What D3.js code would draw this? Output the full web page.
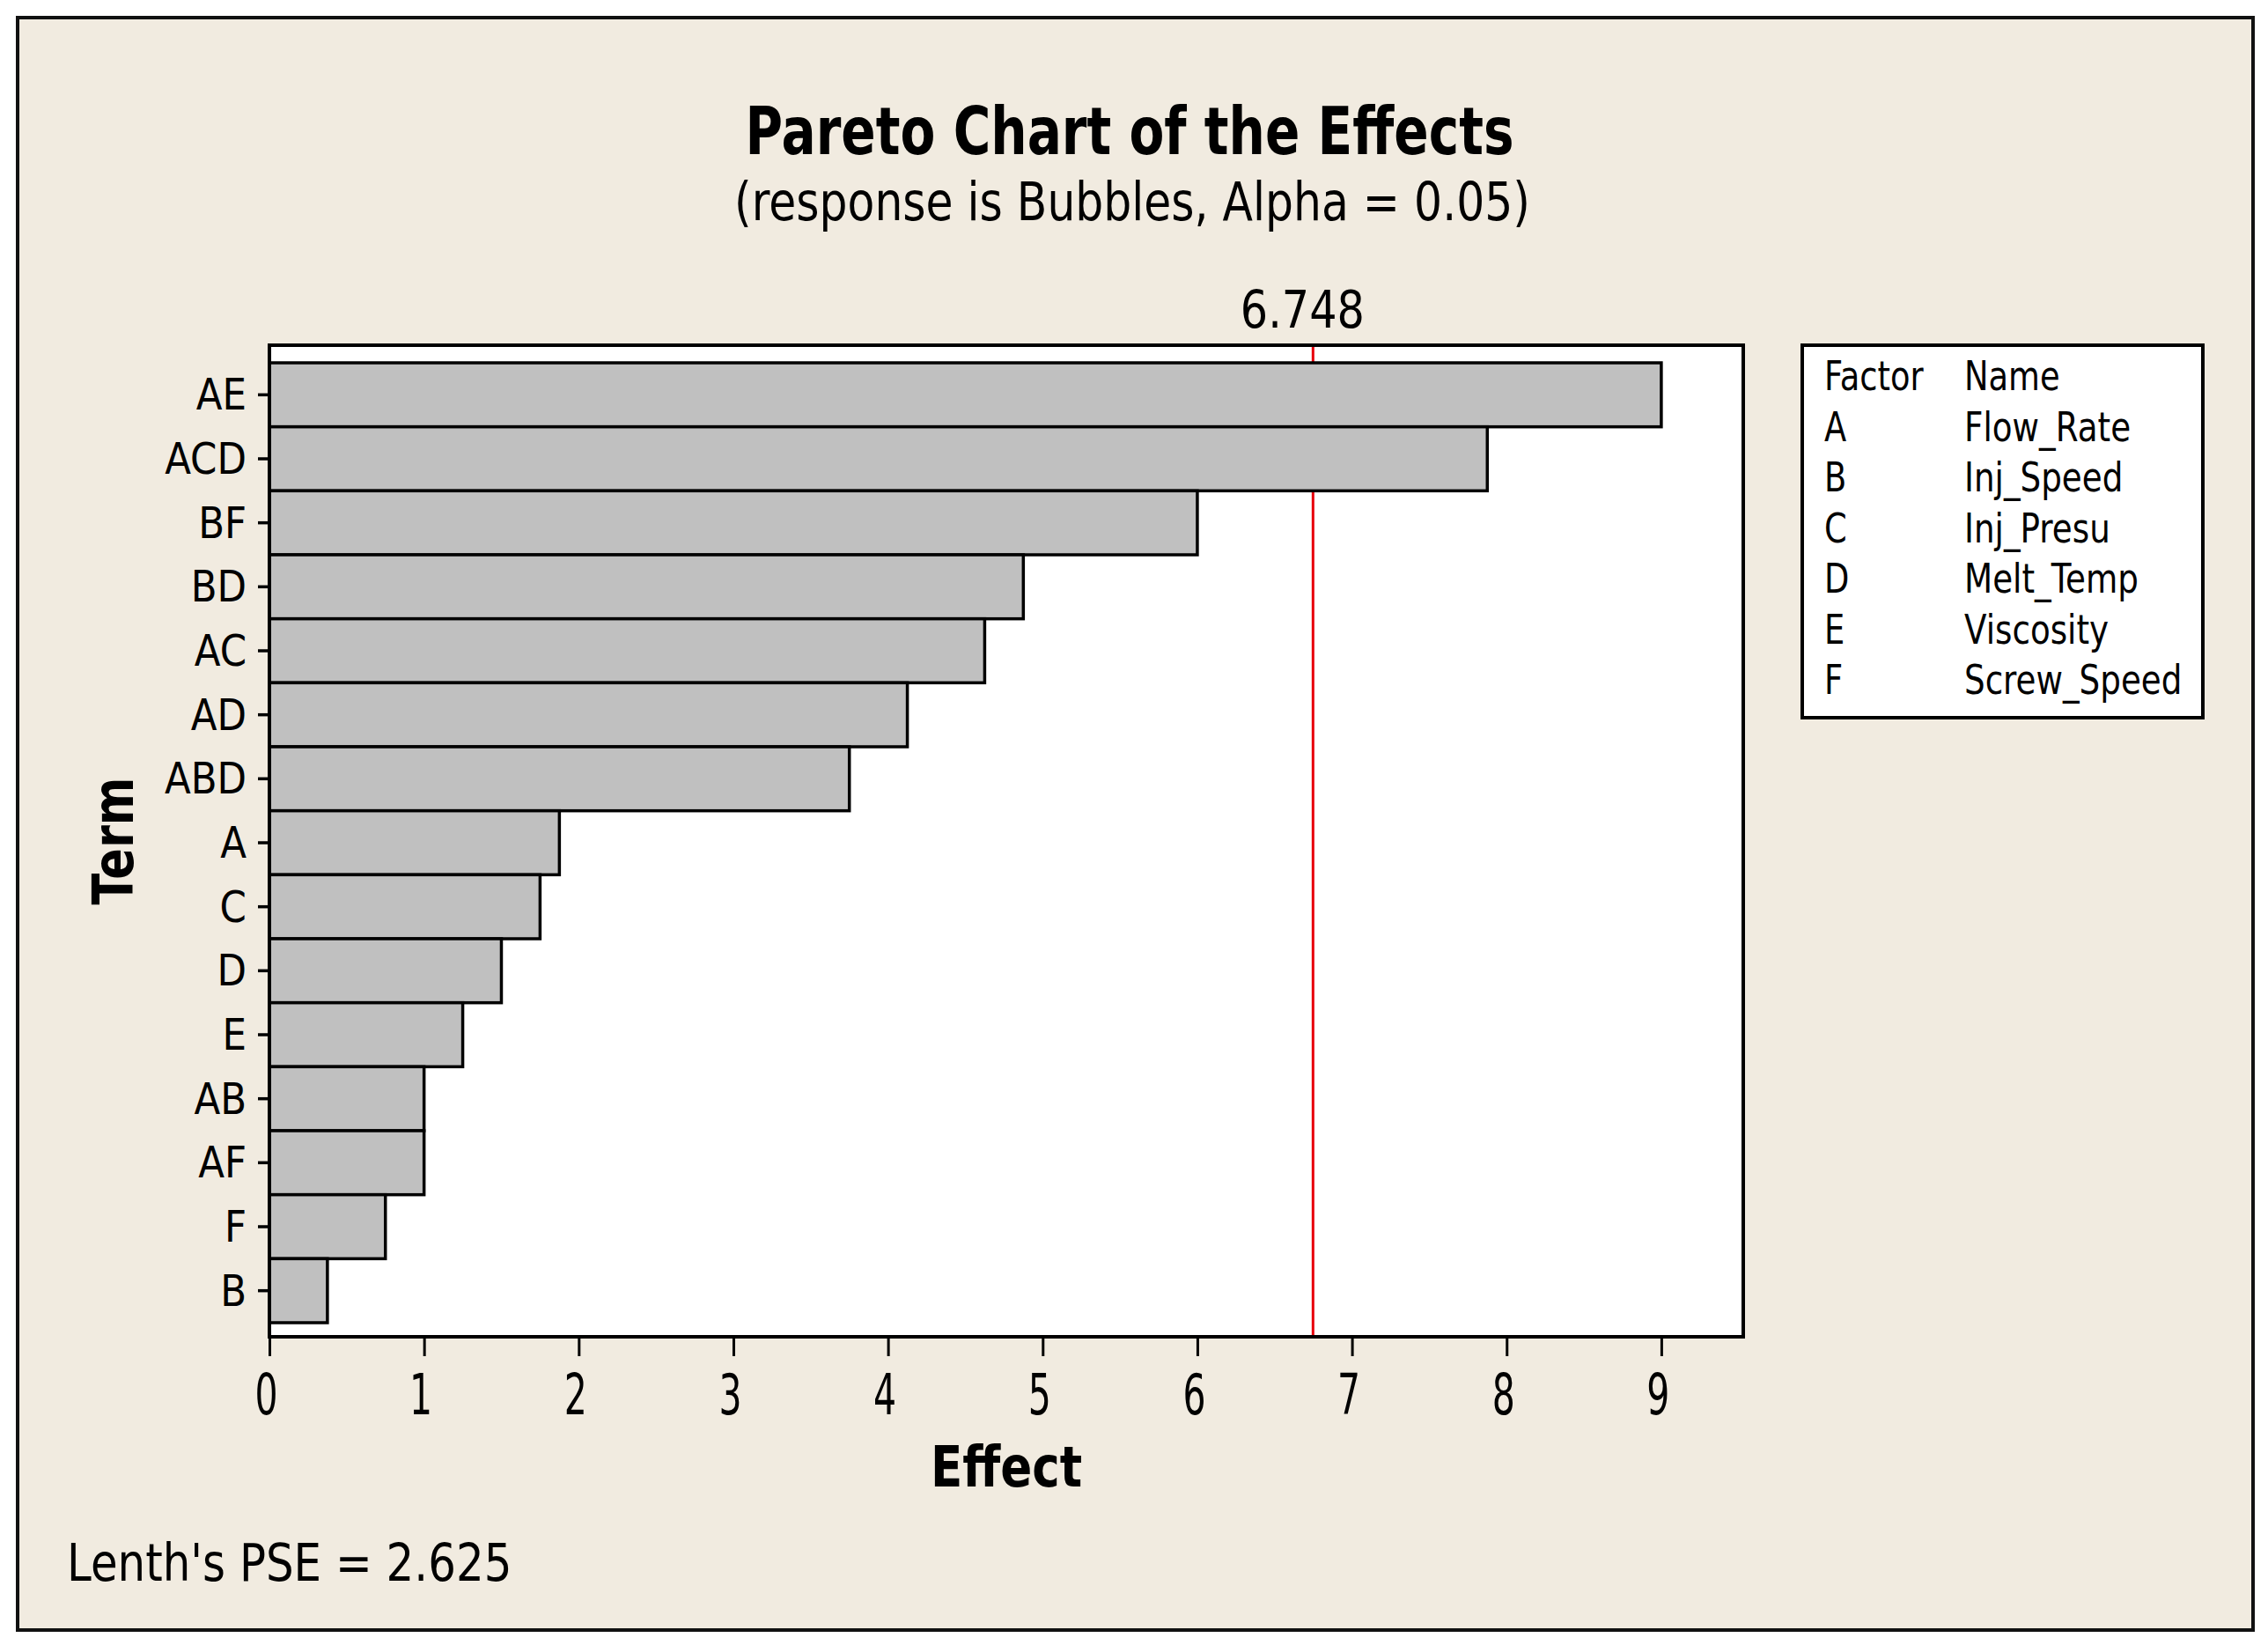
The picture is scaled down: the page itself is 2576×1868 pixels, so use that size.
<!DOCTYPE html>
<html>
<head>
<meta charset="utf-8">
<script src="https://cdn.jsdelivr.net/npm/d3@7"></script>
<style>
  body { margin: 0; background: #fff; }
  text { font-family: "DejaVu Sans", Verdana, sans-serif; fill: #000; }
</style>
</head>
<body>
<div id="chart"></div>
<script>
// Pareto chart data (effects)
const terms = ["AE", "ACD", "BF", "BD", "AC", "AD", "ABD", "A", "C", "D", "E", "AB", "AF", "F", "B"]
const effects = [9.0, 7.875, 6.0, 4.875, 4.625, 4.125, 3.75, 1.875, 1.75, 1.5, 1.25, 1.0, 1.0, 0.75, 0.375]
const x_ticks = [0, 1, 2, 3, 4, 5, 6, 7, 8, 9]
const factors = ["A", "B", "C", "D", "E", "F"]
const factor_names = ["Flow_Rate", "Inj_Speed", "Inj_Presu", "Melt_Temp", "Viscosity", "Screw_Speed"]
const critical_value = 6.748
const lenth_pse = 2.625
const x_max = 9.53

const width = 2576
const height = 1868
const plot = { left: 306, right: 1980, top: 392, bottom: 1518 }

let svg = d3.select("#chart").append("svg")
    .attr("width", width)
    .attr("height", height)

// outer beige frame
svg.append("rect")
    .attr("x", 20).attr("y", 20)
    .attr("width", 2539).attr("height", 1831)
    .style("fill", "#F1EBE0")
    .style("stroke", "#111")
    .style("stroke-width", 4)

// helper: condensed text placed at x,y
let put_text = function(txt, x, y, size, opts) {
    opts = opts || {}
    let sx = opts.sx || 0.8
    let rot = opts.rotate ? ` rotate(${opts.rotate})` : ""
    return svg.append("text")
        .attr("transform", `translate(${x},${y})${rot} scale(${sx},1)`)
        .attr("text-anchor", opts.anchor || "start")
        .style("font-size", size + "px")
        .style("font-weight", opts.bold ? "bold" : "normal")
        .text(txt)
}

put_text("Pareto Chart of the Effects", 1283, 175, 74, { anchor: "middle", bold: true, sx: 0.785 })
put_text("(response is Bubbles, Alpha = 0.05)", 1286, 250, 60, { anchor: "middle", sx: 0.84 })

let x = d3.scaleLinear()
    .domain([0, x_max])
    .range([plot.left, plot.right])

let y = d3.scaleBand()
    .domain(terms)
    .range([412, 1502])
    .padding(0)

// plot background
svg.append("rect")
    .attr("x", plot.left).attr("y", plot.top)
    .attr("width", plot.right - plot.left)
    .attr("height", plot.bottom - plot.top)
    .style("fill", "#fff")

// reference line (drawn before the bars so it hides behind them)
svg.append("line")
    .attr("x1", x(critical_value)).attr("x2", x(critical_value))
    .attr("y1", plot.top).attr("y2", plot.bottom)
    .style("stroke", "#E8000B")
    .style("stroke-width", 3)

put_text(critical_value.toFixed(3), x(critical_value) - 12, 372, 58, { anchor: "middle", sx: 0.85 })

let rows = terms.map((t, i) => ({ term: t, effect: effects[i] }))

svg.selectAll(".bar")
    .data(rows)
    .enter().append("rect")
    .attr("class", "bar")
    .attr("x", plot.left)
    .attr("y", (d) => y(d.term))
    .attr("width", (d) => x(d.effect) - plot.left)
    .attr("height", y.bandwidth())
    .style("fill", "#C0C0C0")
    .style("stroke", "#000")
    .style("stroke-width", 3.5)

// plot frame
svg.append("rect")
    .attr("x", plot.left).attr("y", plot.top)
    .attr("width", plot.right - plot.left)
    .attr("height", plot.bottom - plot.top)
    .style("fill", "none")
    .style("stroke", "#000")
    .style("stroke-width", 4)

// y axis
let y_axis = svg.append("g")
    .attr("transform", `translate(${plot.left},0)`)
    .call(d3.axisLeft(y).tickSize(13).tickSizeOuter(0))
y_axis.select(".domain").remove()
y_axis.selectAll(".tick line").style("stroke", "#000").style("stroke-width", 3.5)
y_axis.selectAll(".tick text")
    .attr("x", 0).attr("dy", null)
    .attr("transform", `translate(-26,17) scale(0.87,1)`)
    .style("font-size", "50px")
    .style("font-family", "\"DejaVu Sans\", sans-serif")
    .style("fill", "#000")

// x axis
let x_axis = svg.append("g")
    .attr("transform", `translate(0,${plot.bottom})`)
    .call(d3.axisBottom(x).tickValues(x_ticks).tickSize(22).tickSizeOuter(0).tickFormat(d3.format("d")))
x_axis.select(".domain").remove()
x_axis.selectAll(".tick line").style("stroke", "#000").style("stroke-width", 3)
x_axis.selectAll(".tick text")
    .attr("y", 0).attr("dy", null)
    .attr("transform", `translate(-4,88) scale(0.64,1)`)
    .style("font-size", "64px")
    .style("font-family", "\"DejaVu Sans\", sans-serif")
    .style("fill", "#000")

put_text("Effect", 1143, 1688, 64, { anchor: "middle", bold: true, sx: 0.83 })
put_text("Term", 151, 955, 64, { anchor: "middle", bold: true, sx: 0.82, rotate: -90 })
put_text("Lenth's PSE = " + lenth_pse.toFixed(3), 76, 1795, 58, { sx: 0.86 })

// factor legend
svg.append("rect")
    .attr("x", 2047).attr("y", 392)
    .attr("width", 455).attr("height", 423)
    .style("fill", "#fff")
    .style("stroke", "#000")
    .style("stroke-width", 4)

let legend_y = d3.scalePoint()
    .domain(["head"].concat(factors))
    .range([443, 788])

put_text("Factor", 2072, legend_y("head"), 46, { sx: 0.8 })
put_text("Name", 2231, legend_y("head"), 46, { sx: 0.8 })
factors.forEach((f, i) => {
    put_text(f, 2072, legend_y(f), 46, { sx: 0.8 })
    put_text(factor_names[i], 2231, legend_y(f), 46, { sx: 0.81 })
})
</script>
</body>
</html>
